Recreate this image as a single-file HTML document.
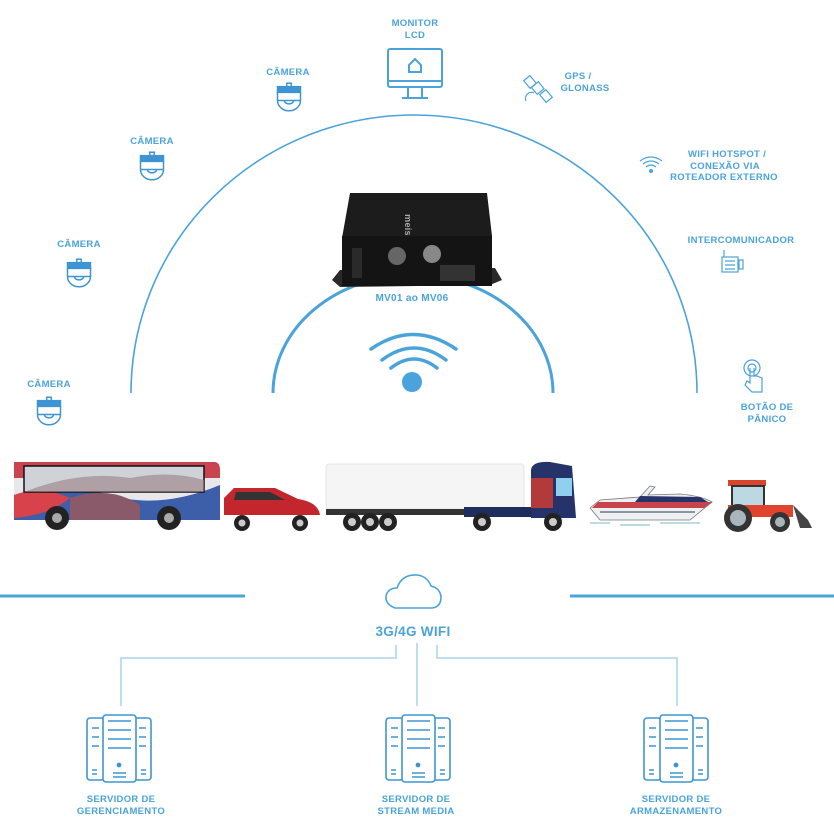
<!DOCTYPE html>
<html><head><meta charset="utf-8"><style>
html,body{margin:0;padding:0;background:#fff;}
svg{display:block;}
text{font-family:"Liberation Sans",sans-serif;font-weight:bold;fill:#4aa3db;font-size:9.5px;text-anchor:middle;letter-spacing:0.3px;}
</style></head><body>
<svg width="834" height="840" viewBox="0 0 834 840" xmlns="http://www.w3.org/2000/svg">
<defs>
<g id="cam" fill="none" stroke="#3f95d2" stroke-width="1.3" transform="scale(1.15)">
<rect x="-2" y="-12" width="4" height="3"/>
<rect x="-10" y="-9" width="20" height="5" fill="#3f95d2"/>
<path d="M-10,-4 V3 A10,9 0 0 0 10,3 V-4"/>
<line x1="-10" y1="3" x2="10" y2="3"/>
<path d="M-4,3 A4,3 0 0 0 4,3"/>
</g>
<g id="srv" fill="none" stroke="#3f95d2" stroke-width="1.6">
<rect x="-32" y="3" width="17" height="62" rx="3"/>
<rect x="15" y="3" width="17" height="62" rx="3"/>
<rect x="-16" y="0" width="33" height="67" rx="3" fill="#fff"/>
<path d="M-11,6H12M-11,15H12M-11,24H12M-11,33H12M-27,13H-20M-27,22H-20M-27,31H-20M20,13H27M20,22H27M20,31H27M-6,58H7M-6,62H7M-27,55H-22M-27,59H-22M22,55H27M22,59H27"/>
<circle cx="0" cy="50" r="1.6" fill="#3f95d2"/>
</g>
</defs>

<path d="M131,393 A283,278 0 0 1 697,393" fill="none" stroke="#4aa3db" stroke-width="1.6"/>
<path d="M273,393 A140,118 0 0 1 553,393" fill="none" stroke="#4aa3db" stroke-width="3"/>

<g fill="none" stroke="#4aa3db" stroke-width="3.5" stroke-linecap="round">
<path d="M371,349 Q413,320 456,349"/>
<path d="M382,360 Q414,336 446,360"/>
<path d="M391,368 Q414,350 437,368"/>
</g>
<circle cx="412" cy="382" r="10" fill="#4aa3db"/>

<g>
<polygon points="332,280 340,270 495,268 502,280 490,285 340,287" fill="#2a2a2a"/>
<polygon points="350,193 487,193 492,236 342,238" fill="#1c1c1c"/>
<rect x="342" y="236" width="150" height="50" fill="#141414"/>
<text x="410" y="230" style="fill:#aaa;font-size:9px" transform="rotate(90 410 225)">meis</text>
<circle cx="397" cy="256" r="9" fill="#666"/>
<circle cx="432" cy="254" r="9" fill="#888"/>
<rect x="440" y="265" width="35" height="16" fill="#333"/>
<rect x="352" y="248" width="10" height="30" fill="#2a2a2a"/>
</g>
<text x="412" y="301" style="font-size:10px">MV01 ao MV06</text>

<text x="415" y="26">MONITOR</text><text x="415" y="38">LCD</text>
<g fill="none" stroke="#4aa3db" stroke-width="2">
<rect x="388" y="49" width="54" height="38" rx="2"/><line x1="388" y1="81" x2="442" y2="81"/>
<path d="M408,87V97M422,87V97M402,98H428"/>
<path d="M409,65L415,59L421,65V72H409Z"/>
</g>

<text x="288" y="75">CÂMERA</text><use href="#cam" x="289" y="97"/>
<text x="152" y="144">CÂMERA</text><use href="#cam" x="152" y="166"/>
<text x="79" y="247">CÂMERA</text><use href="#cam" x="79" y="273"/>
<text x="49" y="387">CÂMERA</text><use href="#cam" x="49" y="411"/>

<text x="578" y="79">GPS /</text><text x="585" y="91">GLONASS</text>
<g fill="none" stroke="#4aa3db" stroke-width="1.2">
<rect x="526" y="77" width="8" height="10" transform="rotate(-40 530 82)"/>
<rect x="542" y="91" width="8" height="10" transform="rotate(-40 546 96)"/>
<rect x="533" y="84" width="9" height="9" transform="rotate(-40 537 88)"/>
<path d="M526,101 A6,6 0 0 1 534,93"/>
</g>

<text x="727" y="157">WIFI HOTSPOT /</text>
<text x="725" y="169">CONEXÃO VIA</text>
<text x="724" y="180">ROTEADOR EXTERNO</text>
<g fill="none" stroke="#4aa3db" stroke-width="1.2">
<path d="M640,161 Q651,153 662,161M643,164 Q651,158 659,164M646,167 Q651,163 656,167"/>
</g>
<circle cx="651" cy="171" r="2" fill="#4aa3db"/>

<text x="741" y="243">INTERCOMUNICADOR</text>
<g fill="none" stroke="#4aa3db" stroke-width="1.2">
<rect x="722" y="257" width="16" height="15"/><path d="M725,261H735M725,265H735M725,269H735M724,257V250"/>
<rect x="739" y="260" width="4" height="9"/>
</g>

<g fill="none" stroke="#4aa3db" stroke-width="1.2">
<circle cx="752" cy="368" r="8"/><circle cx="752" cy="368" r="4"/>
<path d="M750,368V383L747,381L745,385L752,392H762V378L757,376L754,376V368"/>
</g>
<text x="767" y="410">BOTÃO DE</text><text x="767" y="422">PÂNICO</text>

<g>
<path d="M14,462 H214 Q220,462 220,470 V520 H14 Z" fill="#e8e8ec"/>
<path d="M14,462 H214 Q220,462 220,470 V478 H14Z" fill="#c94350"/>
<path d="M14,500 Q60,480 110,495 Q160,510 220,485 V520 H14Z" fill="#3d5ea8"/>
<path d="M14,495 Q40,485 70,498 Q50,515 14,518Z" fill="#d8424a"/>
<path d="M70,498 Q110,485 140,505 L140,520 H70Z" fill="#8b5a6a"/>
<rect x="24" y="466" width="180" height="26" fill="#cfd3d8" stroke="#111" stroke-width="1.5"/>
<path d="M24,492 Q80,470 130,478 Q170,470 204,480 V492Z" fill="#9a7e86" opacity="0.6"/>
<circle cx="57" cy="518" r="12" fill="#222"/><circle cx="57" cy="518" r="5" fill="#aaa"/>
<circle cx="169" cy="518" r="12" fill="#222"/><circle cx="169" cy="518" r="5" fill="#aaa"/>
</g>
<g>
<path d="M224,515 V498 L234,488 H275 L298,499 Q318,502 320,515 Z" fill="#c3262c"/>
<path d="M236,492 H270 L285,500 H234Z" fill="#333"/>
<circle cx="242" cy="523" r="8" fill="#222"/><circle cx="242" cy="523" r="3.5" fill="#ccc"/>
<circle cx="300" cy="523" r="8" fill="#222"/><circle cx="300" cy="523" r="3.5" fill="#ccc"/>
</g>
<g>
<rect x="326" y="464" width="198" height="45" rx="3" fill="#f5f5f5" stroke="#e4e4e4"/>
<rect x="326" y="509" width="140" height="6" fill="#333"/>
<rect x="464" y="507" width="80" height="10" fill="#1f2d5c"/>
<path d="M531,470 Q532,461 550,462 L572,466 L576,518 H531Z" fill="#25336a"/>
<rect x="531" y="478" width="22" height="30" fill="#b33a3a"/>
<rect x="556" y="478" width="16" height="18" fill="#8fd0ef"/>
<circle cx="352" cy="522" r="9" fill="#222"/><circle cx="370" cy="522" r="9" fill="#222"/><circle cx="388" cy="522" r="9" fill="#222"/>
<circle cx="482" cy="522" r="9" fill="#222"/><circle cx="553" cy="522" r="9" fill="#222"/>
<circle cx="352" cy="522" r="4" fill="#ccc"/><circle cx="370" cy="522" r="4" fill="#ccc"/><circle cx="388" cy="522" r="4" fill="#ccc"/><circle cx="482" cy="522" r="4" fill="#ccc"/><circle cx="553" cy="522" r="4" fill="#ccc"/>
</g>
<g>
<path d="M590,508 L600,500 L640,497 L650,486 L655,487 L648,495 L680,494 Q702,496 712,502 L690,520 H600Z" fill="#eef0f2" stroke="#777" stroke-width="0.8"/>
<path d="M598,502 L712,502 L704,508 H592Z" fill="#c8434c"/>
<path d="M640,496 L700,497 L708,502 H635Z" fill="#26346a"/>
<path d="M600,512 H695" stroke="#8a95a8" stroke-width="2"/>
<path d="M590,523H610M620,525H650M660,523H700" stroke="#7ab8c8"/>
</g>
<g>
<rect x="728" y="480" width="38" height="6" fill="#d8442c"/>
<rect x="732" y="486" width="32" height="20" fill="none" stroke="#333" stroke-width="2"/>
<rect x="733" y="487" width="30" height="18" fill="#bcd8e2"/>
<rect x="728" y="505" width="65" height="12" fill="#e0442e"/>
<path d="M793,505 L808,520 L812,528 H800Z" fill="#444"/>
<circle cx="738" cy="518" r="14" fill="#333"/><circle cx="738" cy="518" r="8" fill="#a9b4bd"/>
<circle cx="780" cy="522" r="10" fill="#333"/><circle cx="780" cy="522" r="5" fill="#a9b4bd"/>
</g>

<line x1="0" y1="596" x2="245" y2="596" stroke="#4aa3db" stroke-width="3"/>
<line x1="570" y1="596" x2="834" y2="596" stroke="#4aa3db" stroke-width="3"/>
<path d="M395,608 Q385,604 386,596 Q388,588 397,588 Q402,574 417,575 Q427,576 431,586 Q440,588 441,597 Q441,607 432,608 Z" fill="none" stroke="#4aa3db" stroke-width="1.6"/>
<text x="413" y="636" style="font-size:13.5px;font-weight:900">3G/4G WIFI</text>
<g fill="none" stroke="#a9d3ee" stroke-width="1.5">
<path d="M396,645V658H121V706"/>
<path d="M417,643V706"/>
<path d="M437,645V658H677V706"/>
</g>
<use href="#srv" x="119" y="715"/>
<use href="#srv" x="418" y="715"/>
<use href="#srv" x="676" y="715"/>
<text x="121" y="802">SERVIDOR DE</text><text x="121" y="814">GERENCIAMENTO</text>
<text x="416" y="802">SERVIDOR DE</text><text x="416" y="814">STREAM MEDIA</text>
<text x="676" y="802">SERVIDOR DE</text><text x="676" y="814">ARMAZENAMENTO</text>
</svg>
</body></html>
